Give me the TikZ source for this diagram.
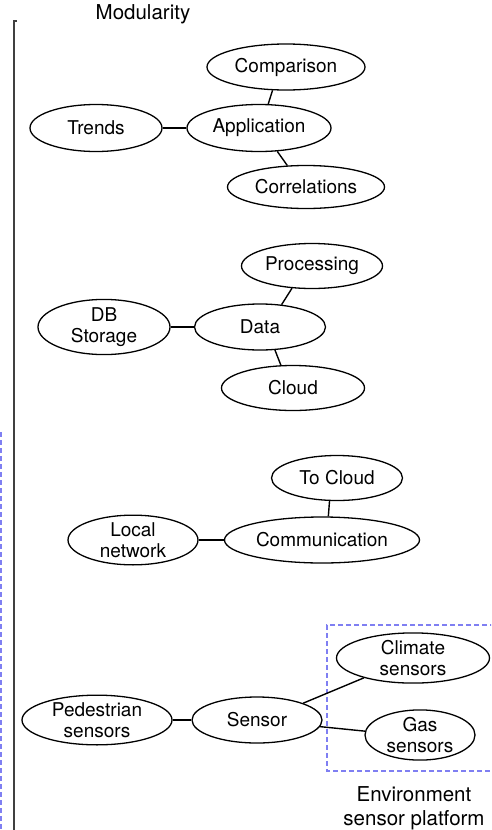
\documentclass[tikz,border=0pt]{standalone}
\usepackage{fontspec}
\setmainfont{TeX Gyre Heros}
\usetikzlibrary{shapes.geometric}
\definecolor{dashblue}{HTML}{7F7FF2}
\tikzset{
  oval/.style={draw=black, ellipse, line width=1.3pt, inner sep=0pt, align=center,
    font=\fontsize{19}{21}\selectfont},
  link/.style={draw=black, line width=1.4pt},
  plainlabel/.style={align=center, inner sep=0pt, font=\fontsize{20.5}{24}\selectfont},
  platform/.style={draw=dashblue, line width=1.2pt, dash pattern=on 5pt off 3pt}
}
\begin{document}
\begin{tikzpicture}[x=1pt,y=-1pt]
\useasboundingbox (0,0) rectangle (491,830);
\clip (0,0) rectangle (491,830);
% titles
\node[plainlabel] (title) at (143,14) {Modularity};
\node[plainlabel] (env) at (414,808) {Environment\\sensor platform};
% axis lines
\draw[line width=1.5pt, draw=black!75] (14,830) -- (14,21) -- (17,21);
\draw[platform] (1,432) -- (1,830);
\draw[platform] (495,625) -- (327,625) -- (327,771) -- (495,771);
% Application group
\node[oval, minimum width=158pt, minimum height=46pt] (cmp) at (286,67) {Comparison};
\node[oval, minimum width=144pt, minimum height=47pt] (app) at (259,128) {Application};
\node[oval, minimum width=132pt, minimum height=47pt] (trd) at (96,128) {Trends};
\node[oval, minimum width=157pt, minimum height=43pt] (cor) at (306,187) {Correlations};
\draw[link] (trd.east) -- (app.west);
\draw[link] (cmp.240) -- (app.69);
\draw[link] (app.308) -- (cor.131);
% Data group
\node[oval, minimum width=141pt, minimum height=45pt] (prc) at (312,266) {Processing};
\node[oval, minimum width=131pt, minimum height=46pt] (dat) at (260,327) {Data};
\node[oval, minimum width=132pt, minimum height=46pt] (dbs) at (104,327) {DB\\Storage};
\node[oval, minimum width=143pt, minimum height=45pt] (cld) at (293,388) {Cloud};
\draw[link] (dbs.east) -- (dat.west);
\draw[link] (prc.228) -- (dat.46);
\draw[link] (dat.303) -- (cld.118);
% Communication group
\node[oval, minimum width=131pt, minimum height=45pt] (tcl) at (337,478) {To Cloud};
\node[oval, minimum width=195pt, minimum height=46pt] (com) at (322,540) {Communication};
\node[oval, minimum width=130pt, minimum height=46pt] (lan) at (133,540) {Local\\network};
\draw[link] (lan.east) -- (com.west);
\draw[link] (tcl.252) -- (com.75);
% Sensor group
\node[oval, minimum width=150pt, minimum height=46pt] (ped) at (97,720) {Pedestrian\\sensors};
\node[oval, minimum width=130pt, minimum height=46pt] (sen) at (257,720) {Sensor};
\node[oval, minimum width=153pt, minimum height=47pt] (clm) at (413,658) {Climate\\sensors};
\node[oval, minimum width=110pt, minimum height=46pt] (gas) at (420,735) {Gas\\sensors};
\draw[link] (ped.east) -- (sen.west);
\draw[link] (sen.20) -- (clm.202);
\draw[link] (sen.-6) -- (gas.176);
\end{tikzpicture}
\end{document}
